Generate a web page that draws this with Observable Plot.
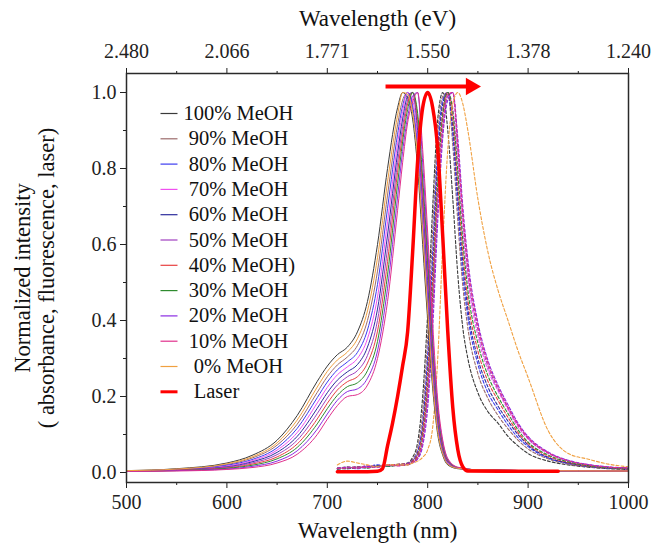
<!DOCTYPE html>
<html>
<head>
<meta charset="utf-8">
<script src="https://cdn.jsdelivr.net/npm/d3@7"></script>
<script src="https://cdn.jsdelivr.net/npm/@observablehq/plot@0.6"></script>
<style>
  html, body { margin: 0; padding: 0; background: #fff; }
  svg, svg text { font-family: "Liberation Serif", "Times New Roman", serif !important; }
  svg text { white-space: pre; }
</style>
</head>
<body>
<div id="chart"></div>
<script>
// ---------- data ----------
const seriesNames = ["100% MeOH","90% MeOH","80% MeOH","70% MeOH","60% MeOH","50% MeOH","40% MeOH)","30% MeOH","20% MeOH","10% MeOH","0% MeOH"];
const legendLabels = ["100% MeOH"," 90% MeOH"," 80% MeOH"," 70% MeOH"," 60% MeOH"," 50% MeOH"," 40% MeOH)"," 30% MeOH"," 20% MeOH"," 10% MeOH","  0% MeOH","  Laser"];
const seriesColors = ["#3a3a3a","#9b6b6b","#3c3cf0","#f050f0","#2c2c9c","#a040c0","#e84040","#2e8b2e","#8a2be2","#e0308c","#f0a040"];
const laserColor = "#ff0000";

// absorbance (solid)
const absNm = [500,550,600,625,650,670,690,700,710,720,730,740,750,760,770,775,780,785,790,795,800,805,810,815,820,830,850,900,1000];
const abs100 = [.005,.010,.025,.045,.085,.150,.240,.280,.310,.330,.370,.450,.600,.800,.960,1.00,.985,.930,.800,.600,.400,.220,.100,.045,.020,.010,.007,.005,.004];
const abs90  = [.004,.009,.021,.038,.072,.127,.211,.252,.283,.304,.334,.400,.530,.730,.915,.980,1.00,.955,.845,.650,.445,.250,.116,.052,.023,.011,.007,.005,.004];
const abs80  = [.004,.008,.019,.034,.065,.116,.197,.238,.270,.291,.316,.375,.495,.695,.890,.965,1.00,.965,.860,.670,.465,.265,.124,.056,.025,.011,.007,.005,.004];
const abs70  = [.004,.007,.017,.031,.059,.105,.183,.224,.257,.278,.300,.352,.462,.660,.865,.950,1.00,.980,.875,.690,.485,.280,.132,.060,.026,.012,.007,.005,.004];
const abs60  = [.004,.007,.015,.028,.053,.095,.169,.210,.243,.265,.284,.330,.430,.625,.840,.930,.990,1.00,.900,.715,.505,.295,.140,.063,.028,.012,.007,.005,.004];
const abs50  = [.003,.006,.014,.025,.047,.085,.155,.196,.230,.252,.268,.308,.400,.590,.815,.910,.980,1.00,.915,.730,.525,.310,.148,.067,.030,.012,.007,.005,.004];
const abs40  = [.003,.006,.012,.022,.041,.075,.141,.182,.217,.239,.252,.288,.372,.555,.790,.890,.970,1.00,.930,.750,.545,.325,.156,.070,.031,.013,.007,.005,.004];
const abs30  = [.003,.005,.011,.019,.036,.066,.128,.168,.203,.226,.236,.268,.345,.520,.760,.870,.955,1.00,.945,.775,.565,.340,.165,.074,.033,.013,.007,.005,.004];
const abs20  = [.003,.005,.009,.016,.030,.057,.114,.154,.190,.213,.220,.248,.320,.485,.725,.845,.935,.990,1.00,.815,.595,.360,.175,.080,.035,.013,.007,.005,.004];
const abs10  = [.003,.004,.008,.013,.025,.048,.100,.140,.176,.200,.205,.230,.300,.450,.690,.815,.920,.975,1.00,.850,.630,.390,.190,.085,.037,.014,.007,.005,.004];
const abs0   = [.005,.009,.023,.041,.078,.138,.225,.266,.296,.317,.352,.425,.565,.765,.940,1.00,.995,.945,.825,.630,.425,.235,.108,.049,.022,.011,.007,.005,.004];

// fluorescence (dashed)
const fluNm = [710,720,730,740,750,760,770,780,785,790,795,800,805,810,815,820,825,830,835,840,850,860,870,880,890,900,920,940,960,980,1000];
const flu100 = [.010,.015,.012,.018,.015,.020,.020,.025,.040,.080,.200,.420,.700,.930,1.00,.900,.720,.520,.380,.300,.210,.160,.130,.095,.070,.050,.030,.020,.014,.010,.008];
const flu90  = [.012,.010,.016,.014,.018,.016,.022,.025,.035,.065,.160,.360,.640,.890,.990,1.00,.860,.660,.490,.380,.260,.195,.150,.115,.085,.062,.036,.022,.015,.011,.009];
const flu80  = [.008,.012,.010,.015,.020,.018,.020,.024,.032,.055,.130,.310,.580,.850,.980,1.00,.890,.700,.520,.410,.285,.210,.165,.125,.092,.068,.038,.024,.016,.012,.010];
const flu70  = [.010,.014,.012,.018,.016,.020,.018,.022,.028,.040,.090,.220,.450,.740,.930,1.00,.960,.820,.640,.510,.360,.270,.215,.165,.120,.088,.050,.030,.020,.014,.012];
const flu60  = [.012,.010,.014,.012,.018,.016,.020,.022,.030,.050,.120,.280,.540,.820,.970,1.00,.910,.730,.550,.430,.300,.225,.175,.135,.100,.072,.040,.025,.017,.012,.010];
const flu50  = [.010,.012,.015,.013,.017,.020,.018,.020,.026,.038,.080,.200,.420,.700,.900,.990,1.00,.850,.670,.530,.375,.280,.220,.170,.125,.090,.052,.031,.020,.014,.012];
const flu40  = [.011,.013,.011,.016,.015,.019,.021,.023,.030,.048,.110,.260,.510,.790,.950,1.00,.930,.760,.580,.455,.320,.240,.190,.145,.105,.076,.043,.026,.017,.013,.010];
const flu30  = [.009,.011,.014,.012,.017,.016,.019,.021,.027,.042,.095,.230,.470,.760,.940,1.00,.950,.790,.610,.480,.340,.255,.200,.155,.112,.080,.046,.028,.018,.013,.011];
const flu20  = [.011,.013,.012,.016,.014,.018,.020,.022,.026,.036,.070,.170,.380,.660,.880,.980,1.00,.880,.700,.560,.395,.295,.230,.178,.130,.095,.054,.032,.021,.015,.012];
const flu10  = [.010,.012,.014,.013,.016,.019,.018,.021,.027,.040,.085,.210,.440,.720,.910,.995,1.00,.860,.680,.545,.385,.288,.225,.172,.126,.092,.052,.031,.020,.014,.012];
const flu0   = [.020,.030,.025,.020,.015,.020,.020,.020,.025,.030,.040,.060,.120,.300,.600,.850,.970,1.00,.970,.900,.720,.580,.480,.400,.320,.250,.110,.050,.035,.022,.015];

// laser
const laserNm  = [710,740,750,755,760,765,770,775,780,785,790,795,800,805,810,815,820,825,830,835,840,880,930];
const laserVal = [.002,.002,.003,.010,.070,.130,.200,.280,.370,.580,.820,.960,1.00,.960,.850,.620,.370,.170,.060,.015,.004,.003,.003];

// red shift arrow (nm, intensity)
const arrowStartNm = 758, arrowTipNm = 853, arrowLevel = 1.016;

// axes ticks
const majorNm = [500,600,700,800,900,1000];
const minorNm = [550,650,750,850,950];
const evLabels = ["2.480","2.066","1.771","1.550","1.378","1.240"];
const yMajor = [0,0.2,0.4,0.6,0.8,1.0];
const yMinor = [0.1,0.3,0.5,0.7,0.9];

// ---------- layout ----------
const W = 656, H = 544, mL = 126, mR = 28, mT = 73, mB = 62;
const xDom = [500,1000], yDom = [-0.0263, 1.05];
const px2x = d3.scaleLinear([mL, W - mR], xDom);
const px2y = d3.scaleLinear([H - mB, mT], yDom);
const leg = {x0: 160, x1: 177, tx: 183, y0: 113, step: 25.3};

const absSeries = [abs100,abs90,abs80,abs70,abs60,abs50,abs40,abs30,abs20,abs10,abs0];
const fluSeries = [flu100,flu90,flu80,flu70,flu60,flu50,flu40,flu30,flu20,flu10,flu0];
const font = "'Liberation Serif', 'Times New Roman', serif";

const marks = [];
fluSeries.forEach((vals, i) => {
  marks.push(Plot.line(fluNm.map((x, j) => ({x, y: vals[j]})), {
    x: "x", y: "y", stroke: seriesColors[i], strokeWidth: 1.1, strokeDasharray: "3,2", curve: "monotone-x"
  }));
});
absSeries.forEach((vals, i) => {
  marks.push(Plot.line(absNm.map((x, j) => ({x, y: vals[j]})), {
    x: "x", y: "y", stroke: seriesColors[i], strokeWidth: 1, curve: "monotone-x"
  }));
});
marks.push(Plot.line(laserNm.map((x, j) => ({x, y: laserVal[j]})), {
  x: "x", y: "y", stroke: laserColor, strokeWidth: 3.5, curve: "monotone-x"
}));
// arrow
const tipCentroidNm = arrowTipNm - (px2x(mL + 10) - 500);
marks.push(Plot.link([0], {x1: () => arrowStartNm, x2: () => tipCentroidNm, y1: () => arrowLevel, y2: () => arrowLevel, stroke: laserColor, strokeWidth: 4}));
marks.push(Plot.dot([0], {x: () => tipCentroidNm, y: () => arrowLevel, symbol: "triangle", r: 6.5, fill: laserColor, stroke: "none", rotate: 90}));

// legend
const legRows = legendLabels.map((label, i) => ({
  label,
  color: i < seriesColors.length ? seriesColors[i] : laserColor,
  width: i < seriesColors.length ? 1.2 : 3,
  y: px2y(leg.y0 + i * leg.step)
}));
legRows.forEach(r => {
  marks.push(Plot.link([r], {x1: () => px2x(leg.x0), x2: () => px2x(leg.x1), y1: "y", y2: "y", stroke: r.color, strokeWidth: r.width}));
});
marks.push(Plot.text(legRows, {x: () => px2x(leg.tx), y: "y", text: "label", textAnchor: "start", lineAnchor: "middle", fontSize: 20.5, fill: "#111"}));

// axes
marks.push(Plot.axisX({ticks: majorNm, tickSize: 6, tickPadding: 6, tickFormat: d => String(d), label: null, fontSize: 20}));
marks.push(Plot.axisX({ticks: minorNm, tickSize: 3, tickFormat: () => "", label: null}));
marks.push(Plot.axisX({anchor: "top", ticks: majorNm, tickSize: 6, tickPadding: 10, tickFormat: d => evLabels[majorNm.indexOf(d)], label: null, fontSize: 20}));
marks.push(Plot.axisX({anchor: "top", ticks: minorNm, tickSize: 3, tickFormat: () => "", label: null}));
marks.push(Plot.axisY({ticks: yMajor, tickSize: 6, tickPadding: 4, tickFormat: d3.format(".1f"), label: null, fontSize: 20}));
marks.push(Plot.axisY({ticks: yMinor, tickSize: 3, tickFormat: () => "", label: null}));
marks.push(Plot.frame({stroke: "#2a2a2a", strokeWidth: 1.5}));

// titles
marks.push(Plot.text(["Wavelength (eV)"], {frameAnchor: "top", dy: -55, fontSize: 23, textAnchor: "middle", lineAnchor: "middle", fill: "#111"}));
marks.push(Plot.text(["Wavelength (nm)"], {frameAnchor: "bottom", dy: 48, fontSize: 23, textAnchor: "middle", lineAnchor: "middle", fill: "#111"}));
marks.push(Plot.text(["Normalized intensity"], {frameAnchor: "left", dx: -104, rotate: -90, fontSize: 22.5, textAnchor: "middle", lineAnchor: "middle", fill: "#111"}));
marks.push(Plot.text(["( absorbance, fluorescence, laser)"], {frameAnchor: "left", dx: -80, rotate: -90, fontSize: 22.5, textAnchor: "middle", lineAnchor: "middle", fill: "#111"}));

const chart = Plot.plot({
  width: W, height: H,
  marginLeft: mL, marginRight: mR, marginTop: mT, marginBottom: mB,
  x: {domain: xDom},
  y: {domain: yDom},
  style: {fontFamily: font, fontSize: "19px", color: "#222", background: "white", overflow: "visible"},
  marks
});
document.getElementById("chart").appendChild(chart);
</script>
</body>
</html>
